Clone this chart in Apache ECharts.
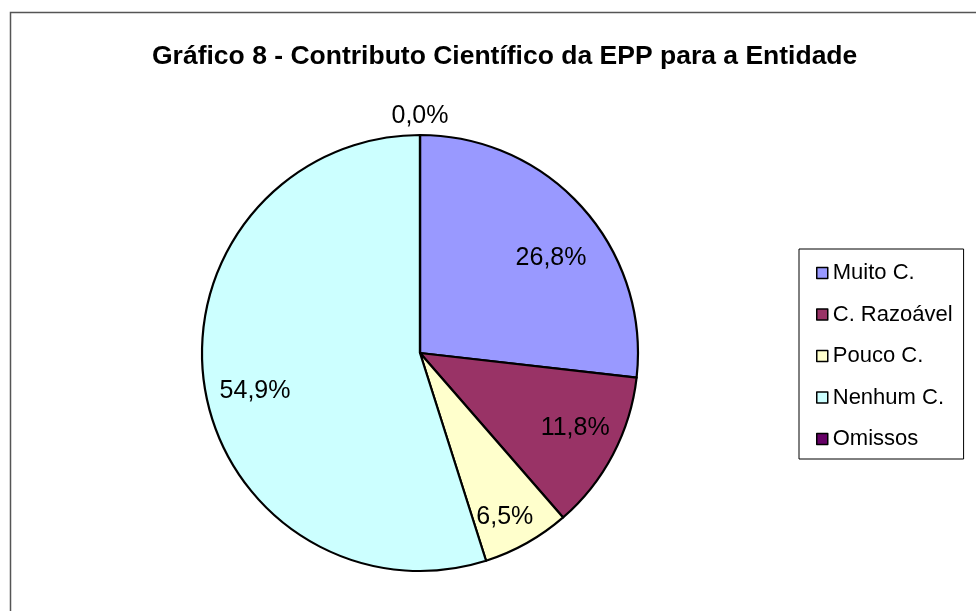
<!DOCTYPE html>
<html>
<head>
<meta charset="utf-8">
<script src="https://cdn.jsdelivr.net/npm/echarts@6/dist/echarts.min.js"></script>
<style>
html,body{margin:0;padding:0;background:#fff;}
#chart{width:976px;height:611px;}
</style>
</head>
<body>
<div id="chart"></div>
<script>
var titleText = 'Gráfico 8 - Contributo Científico da EPP para a Entidade';
var categories = ['Muito C.', 'C. Razoável', 'Pouco C.', 'Nenhum C.', 'Omissos'];
var values = [26.8, 11.8, 6.5, 54.9, 0.0];
var colors = ['#9999FF', '#993366', '#FFFFCC', '#CCFFFF', '#660066'];

var FONT = "'Liberation Sans', Arial, sans-serif";
function fmt(v) { return v.toFixed(1).replace('.', ',') + '%'; }

// small label nudges (styling only) to mimic the original best-fit placement
var labelNudges = [[2, 20], [2, -5], [0, 13], [6, 12], [0, 0]];

var pieData = categories.map(function (c, i) {
  return { name: c, value: values[i], itemStyle: { color: colors[i] } };
});
var labelData = categories.map(function (c, i) {
  return { name: c, value: values[i], label: { offset: labelNudges[i] } };
});

var chart = echarts.init(document.getElementById('chart'));
chart.setOption({
  animation: false,
  backgroundColor: '#fff',
  graphic: [{
    type: 'rect', silent: true, z: -10,
    shape: { x: 10.5, y: 12.5, width: 1000, height: 700 },
    style: { fill: 'none', stroke: '#555', lineWidth: 1.5 }
  }],
  title: {
    text: titleText, left: 152, top: 43, padding: 0,
    textStyle: { fontFamily: FONT, fontSize: 26.5, fontWeight: 'bold', color: '#000', lineHeight: 27 }
  },
  legend: {
    orient: 'vertical', left: 799, top: 249,
    padding: [13, 11, 9, 17],
    backgroundColor: '#fff', borderColor: '#000', borderWidth: 1,
    itemWidth: 11, itemHeight: 11, itemGap: 19.5, icon: 'rect',
    data: categories,
    textStyle: { fontFamily: FONT, fontSize: 22, color: '#000', lineHeight: 22 },
    itemStyle: { borderColor: '#000', borderWidth: 1.5 },
    selectedMode: false
  },
  series: [{
    type: 'pie', name: 'main', center: [420, 353], radius: 218,
    startAngle: 90, clockwise: true, silent: true,
    label: { show: false }, labelLine: { show: false },
    itemStyle: { borderColor: '#000', borderWidth: 2.2 },
    emphasis: { disabled: true },
    data: pieData
  }, {
    type: 'pie', name: 'labels', center: [420, 353], radius: [122, 218],
    startAngle: 90, clockwise: true, silent: true, z: 5,
    itemStyle: { color: 'rgba(0,0,0,0)', borderWidth: 0 },
    label: {
      show: true, position: 'inside', fontFamily: FONT, fontSize: 25, color: '#000',
      formatter: function (p) { return p.value > 0 ? fmt(p.value) : ''; }
    },
    labelLine: { show: false },
    emphasis: { disabled: true },
    data: labelData
  }, {
    type: 'pie', name: 'zeroLabels', center: [420, 353], radius: [234, 234],
    startAngle: 90, clockwise: true, silent: true, z: 5,
    itemStyle: { color: 'rgba(0,0,0,0)', borderWidth: 0 },
    label: {
      show: true, position: 'inside', fontFamily: FONT, fontSize: 25, color: '#000',
      formatter: function (p) { return p.value > 0 ? '' : fmt(p.value); }
    },
    labelLine: { show: false },
    emphasis: { disabled: true },
    data: labelData.map(function (d) { return { name: d.name, value: d.value }; })
  }]
});
</script>
</body>
</html>
